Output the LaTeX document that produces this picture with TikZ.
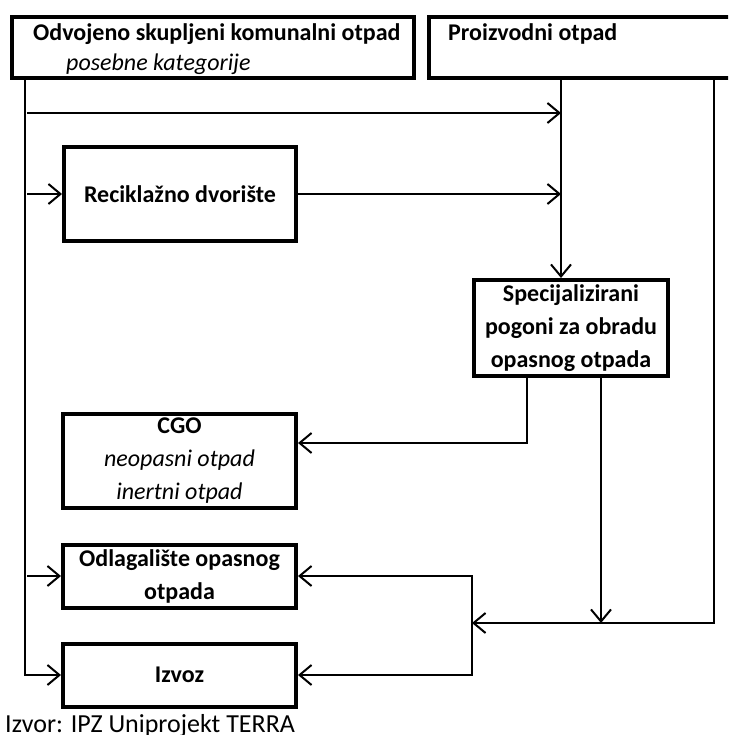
\documentclass[tikz,border=0pt]{standalone}
\usepackage{fontspec}
\setmainfont{Carlito}
\usetikzlibrary{arrows.meta}
\begin{document}
\begin{tikzpicture}[x=1pt,y=-1pt,
  boxst/.style={draw, line width=4pt, fill=white, inner sep=0pt, align=center,
    font=\bfseries\fontsize{24}{33}\selectfont},
  txt/.style={inner sep=0pt, font=\fontsize{24}{33}\selectfont},
  conn/.style={line width=2pt},
  arr/.style={line width=2pt, -{Straight Barb[length=12pt,width=20pt,line width=2pt]}}]
\useasboundingbox (0,0) rectangle (728,735);
\clip (0,0) rectangle (728,735);
\fill[white] (0,0) rectangle (728,735);

% boxes
\node[boxst, minimum width=402pt, minimum height=61pt] (odv) at (213,47.5) {};
\node[boxst, minimum width=311pt, minimum height=61pt] (pro) at (584.5,47.5) {};
\node[txt, anchor=base west] (odvt) at (33,41) {\bfseries Odvojeno skupljeni komunalni otpad};
\node[txt, anchor=base west] (odvi) at (66,71) {\itshape posebne kategorije};
\node[txt, anchor=base west] (prot) at (448,41) {\bfseries Proizvodni otpad};

\node[boxst, minimum width=232pt, minimum height=94pt] (rec) at (180,194) {Reciklažno dvorište};
\node[boxst, minimum width=194pt, minimum height=96pt] (spec) at (571,328) {Specijalizirani\\pogoni za obradu\\opasnog otpada};
\node[boxst, minimum width=233pt, minimum height=94pt] (cgo) at (179.5,461) {CGO\\{\mdseries\itshape neopasni otpad}\\{\mdseries\itshape inertni otpad}};
\node[boxst, minimum width=233pt, minimum height=63pt] (odl) at (179.5,576) {Odlagalište opasnog\\otpada};
\node[boxst, minimum width=233pt, minimum height=63pt] (izv) at (179.5,675) {Izvoz};

\node[anchor=base west, inner sep=0pt, font=\fontsize{26}{30}\selectfont] (src) at (5,732) {Izvor: IPZ Uniprojekt TERRA};

% connector points
\coordinate (lft) at ([xshift=15pt]odv.south west);
\coordinate (bA) at (27,113);
\coordinate (proout) at ([xshift=134pt]pro.south west);
\coordinate (proright) at ([xshift=287pt]pro.south west);
\coordinate (s1) at ([xshift=55pt]spec.south west);
\coordinate (s2) at ([xshift=129pt]spec.south west);
\coordinate (vj) at (472,623);

% left collector
\draw[arr] (lft) |- (izv.west);
\draw[arr] (bA) -- (bA -| proout);
\draw[arr] (bA |- rec.west) -- (rec.west);
\draw[arr] (bA |- odl.west) -- (odl.west);

% to specialised plants
\draw[arr] (proout) -- (proout |- spec.north);
\draw[arr] (rec.east) -- (rec.east -| proout);

% from specialised plants
\draw[arr] (s1) |- ([yshift=18pt]cgo.east);
\draw[arr] (s2) -- (s2 |- vj);
\draw[arr] (proright) |- (vj);
\draw[arr] (vj) |- (odl.east);
\draw[arr] (vj) |- (izv.east);
\end{tikzpicture}
\end{document}
